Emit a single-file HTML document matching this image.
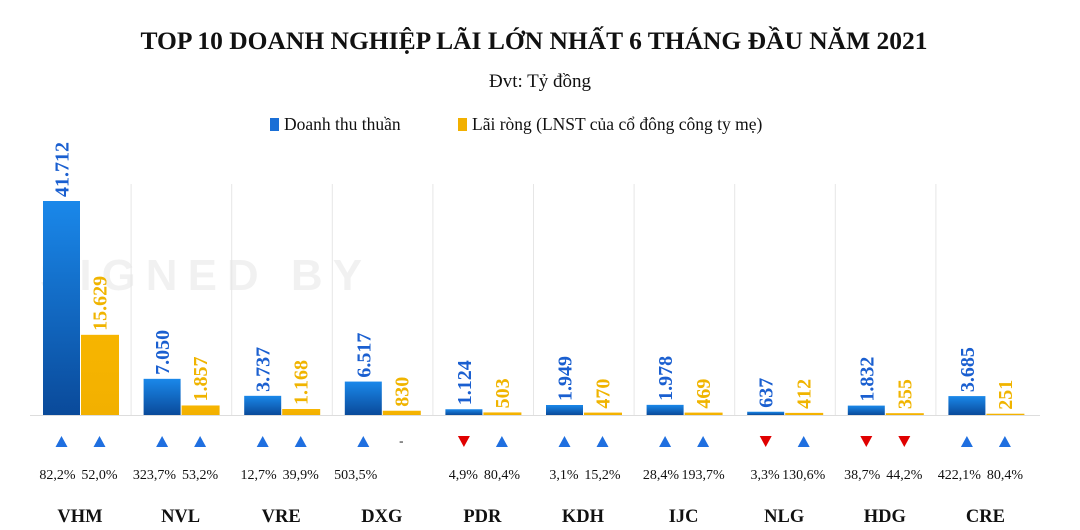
<!DOCTYPE html>
<html><head><meta charset="utf-8"><style>
body{margin:0;background:#fff;width:1080px;height:530px;overflow:hidden}
svg{display:block}
</style></head><body>
<svg id="c" width="1080" height="530" font-family="Liberation Serif, serif">
<defs>
<linearGradient id="gb" x1="0" y1="0" x2="0" y2="1"><stop offset="0" stop-color="#1a88ea"/><stop offset="1" stop-color="#0a4a9a"/></linearGradient>
<linearGradient id="gy" x1="0" y1="0" x2="0" y2="1"><stop offset="0" stop-color="#f7b500"/><stop offset="1" stop-color="#f2b000"/></linearGradient>
</defs>
<text x="534" y="49" text-anchor="middle" font-size="25.5" font-weight="bold" fill="#111">TOP 10 DOANH NGHIỆP LÃI LỚN NHẤT 6 THÁNG ĐẦU NĂM 2021</text>
<text x="540" y="87" text-anchor="middle" font-size="19" fill="#111">Đvt: Tỷ đồng</text>
<g>
<rect x="270" y="118" width="9" height="13" fill="#1a6fd6"/>
<text x="284" y="130" font-size="17.5" fill="#111">Doanh thu thuần</text>
<rect x="458" y="118" width="9" height="13" fill="#f2b000"/>
<text x="472" y="130" font-size="17.5" fill="#111">Lãi ròng (LNST của cổ đông công ty mẹ)</text>
</g>
<text x="40" y="290" font-family="Liberation Sans, sans-serif" font-size="44" font-weight="bold" letter-spacing="10" fill="#000" opacity="0.05">SIGNED BY</text>
<g id="plot"></g>
</svg>
<script>
const categories=["VHM","NVL","VRE","DXG","PDR","KDH","IJC","NLG","HDG","CRE"];
const revenue=[41712,7050,3737,6517,1124,1949,1978,637,1832,3685];
const profit=[15629,1857,1168,830,503,470,469,412,355,251];
const revenueChg=["82,2%","323,7%","12,7%","503,5%","4,9%","3,1%","28,4%","3,3%","38,7%","422,1%"];
const revenueUp=[1,1,1,1,0,1,1,0,0,1];
const profitChg=["52,0%","53,2%","39,9%","-","80,4%","15,2%","193,7%","130,6%","44,2%","80,4%"];
const profitUp=[1,1,1,null,1,1,1,1,0,1];
const fmt=v=>v.toLocaleString('de-DE');
const base=415, scale=214/41712, x0=30, gw=100.6, bw=37;
const y=v=>base-v*scale;
const ns="http://www.w3.org/2000/svg", g=document.getElementById('plot');
function mk(t,a){const e=document.createElementNS(ns,t);for(const k in a)e.setAttribute(k,a[k]);g.appendChild(e);return e;}
const base_line=mk('line',{x1:30,x2:1040,y1:base+0.5,y2:base+0.5,stroke:'#ddd'});


categories.forEach((c,i)=>{
  const gx=x0+i*gw, bx=gx+13;
  if(i>0){const s=mk('line',{x1:gx+0.5,x2:gx+0.5,y1:184,y2:base,stroke:'#e6e6e6'});
    
    }
  const r1=mk('rect',{x:bx,y:y(revenue[i]),width:bw,height:revenue[i]*scale,fill:'url(#gb)'});
  
  
  const r2=mk('rect',{x:bx+bw+1,y:y(profit[i]),width:bw+1,height:Math.max(profit[i]*scale,1),fill:'url(#gy)'});
  
  
  [[revenue[i],bx+bw/2,'#1a5fd0','revenue'],[profit[i],bx+bw+1+bw/2,'#f0b400','profit']].forEach(([v,cx,col,n])=>{
    const ty=y(v)-4;
    const t=mk('text',{x:0,y:0,transform:`translate(${cx+7},${ty}) rotate(-90)`,'font-size':20,'font-weight':'bold',fill:col});
    t.textContent=fmt(v);
    
    
  });
  [[revenueUp[i],revenueChg[i],bx+bw/2,14,'end','revenue'],[profitUp[i],profitChg[i],bx+bw+1+bw/2,0,'middle','profit']].forEach(([u,txt,cx,dx,anc,n])=>{
    let m;
    if(u===1) m=mk('path',{d:`M${cx-6} 447 L${cx+6} 447 L${cx} 436 Z`,fill:'#1f6fe0'});
    else if(u===0) m=mk('path',{d:`M${cx-6} 436 L${cx+6} 436 L${cx} 447 Z`,fill:'#e00000'});
    else {m=mk('text',{x:cx,y:445,'text-anchor':'middle','font-size':13,fill:'#111'});m.textContent='-';}
    
    
    if(txt!=='-'){const p=mk('text',{x:cx+dx,y:479,'text-anchor':anc,'font-size':14,fill:'#111'});
      p.textContent=txt;
      
      }
  });
  const l=mk('text',{x:bx+bw,y:522,'text-anchor':'middle','font-size':18.5,'font-weight':'bold',fill:'#111'});
  l.textContent=c;
  
  
});
</script>
</body></html>
